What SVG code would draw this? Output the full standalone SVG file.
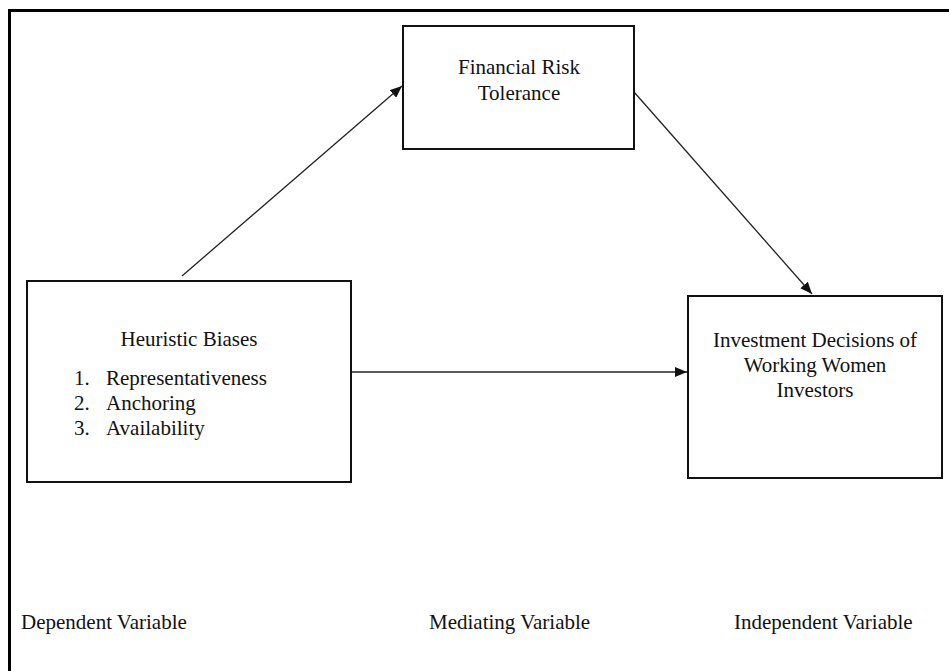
<svg xmlns="http://www.w3.org/2000/svg" width="949" height="671" viewBox="0 0 949 671">
<style>
.box{fill:#fff;stroke:#111;stroke-width:2}
.t{font-family:"Liberation Serif","Times New Roman",serif;font-size:21px;fill:#111}
.c{text-anchor:middle}
.conn{stroke:#222;stroke-width:1.3;fill:none}
</style>
<defs>
<marker id="ah" viewBox="0 0 12 10" refX="12" refY="5" markerWidth="12" markerHeight="10" markerUnits="userSpaceOnUse" orient="auto">
<path d="M0,0 L12,5 L0,10 Z" fill="#111"/>
</marker>
</defs>
<rect width="949" height="671" fill="#fff"/>
<path d="M9.5,680 L9.5,10.5 L960,10.5" fill="none" stroke="#000" stroke-width="3"/>
<g id="connectors">
<line class="conn" x1="182" y1="276" x2="402" y2="86" marker-end="url(#ah)"/>
<line class="conn" x1="634" y1="92" x2="812" y2="294" marker-end="url(#ah)"/>
<line class="conn" x1="351" y1="372" x2="687" y2="372" marker-end="url(#ah)"/>
</g>
<g id="financial-risk-tolerance">
<rect class="box" x="403" y="26" width="231" height="123"/>
<text class="t c" x="519" y="74">Financial Risk</text>
<text class="t c" x="519" y="100">Tolerance</text>
</g>
<g id="heuristic-biases">
<rect class="box" x="27" y="281" width="324" height="201"/>
<text class="t c" x="189" y="346">Heuristic Biases</text>
<text class="t" x="74" y="385">1.</text>
<text class="t" x="106" y="385">Representativeness</text>
<text class="t" x="74" y="410">2.</text>
<text class="t" x="106" y="410">Anchoring</text>
<text class="t" x="74" y="435">3.</text>
<text class="t" x="106" y="435">Availability</text>
</g>
<g id="investment-decisions">
<rect class="box" x="688" y="296" width="254" height="182"/>
<text class="t c" x="815" y="347">Investment Decisions of</text>
<text class="t c" x="815" y="372">Working Women</text>
<text class="t c" x="815" y="397">Investors</text>
</g>
<g id="labels">
<text class="t" x="21" y="629">Dependent Variable</text>
<text class="t" x="429" y="629">Mediating Variable</text>
<text class="t" x="734" y="629">Independent Variable</text>
</g>
</svg>
